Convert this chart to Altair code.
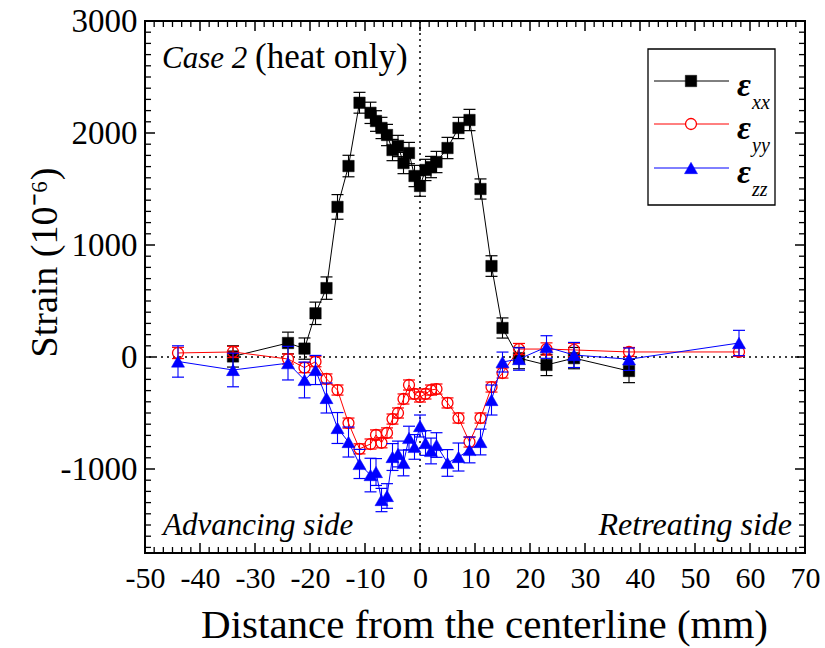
import altair as alt
import pandas as pd

# ---------------- data ----------------
x_all = [-44, -34, -24, -21, -19, -17, -15, -13, -11, -9, -8, -7, -6, -5, -4, -3,
         -2, -1, 0, 1, 2, 3, 5, 7, 9, 11, 13, 15, 18, 23, 28, 38, 58]

x_xx = [-34, -24, -21, -19, -17, -15, -13, -11, -9, -8, -7, -6, -5, -4, -3,
        -2, -1, 0, 1, 2, 3, 5, 7, 9, 11, 13, 15, 18, 23, 28, 38]
eps_xx = [5, 125, 75, 390, 615, 1340, 1705, 2270, 2180, 2107, 2045, 1982, 1848, 1884, 1732,
          1821, 1616, 1527, 1670, 1696, 1741, 1866, 2045, 2116, 1500, 812, 259, -10, -71, -10, -125]
err_xx = [95, 97, 95, 100, 100, 110, 96, 93, 95, 92, 95, 95, 95, 95, 95,
          95, 95, 92, 95, 95, 95, 95, 95, 95, 90, 92, 90, 95, 95, 95, 104]

eps_yy = [36, 45, -18, -95, -42, -196, -295, -590, -820, -777, -696, -766, -678, -554, -500, -375,
          -250, -330, -357, -330, -295, -286, -410, -545, -759, -545, -268, -143, 71, 71, 63, 45, 45]
err_yy = [50, 50, 45, 45, 45, 45, 45, 45, 45, 45, 45, 45, 45, 45, 45, 45,
          45, 45, 45, 45, 45, 45, 45, 45, 45, 45, 45, 45, 50, 55, 60, 40, 40]

eps_zz = [-40, -116, -55, -205, -116, -366, -634, -759, -955, -1054, -1027, -1277, -1241, -893, -866, -946,
          -723, -803, -616, -768, -839, -786, -946, -893, -830, -759, -384, -45, -18, 89, 18, -20, 125]
err_zz = [140, 150, 150, 160, 130, 134, 138, 134, 130, 150, 120, 104, 110, 120, 115, 115,
          105, 110, 98, 110, 115, 110, 119, 125, 115, 115, 134, 89, 100, 101, 112, 100, 113]

x_major = [-50, -40, -30, -20, -10, 0, 10, 20, 30, 40, 50, 60, 70]
y_major = [-1000, 0, 1000, 2000, 3000]

FONT = "'Liberation Serif', 'Times New Roman', Times, serif"
W, H = 660, 532
xs = alt.Scale(domain=[-50, 70], nice=False, zero=False)
ys = alt.Scale(domain=[-1750, 3000], nice=False, zero=False)

X_AXIS = alt.Axis(
    values=x_major, labelExpr="datum.value + ''", ticks=False, domain=False, grid=False,
    labelFont=FONT, labelFontSize=30, labelColor="black", labelPadding=10,
    labelFlush=False, labelOverlap=False,
    title="Distance from the centerline (mm)", titleFont=FONT, titleFontSize=41,
    titleFontWeight="normal", titleColor="black", titleX=339, titleY=72,
    titleBaseline="middle", titleAlign="center")
Y_AXIS = alt.Axis(
    values=y_major, labelExpr="datum.value + ''", ticks=False, domain=False, grid=False,
    labelFont=FONT, labelFontSize=33, labelColor="black", labelPadding=8,
    labelOverlap=False, labelFlush=False,
    title="Strain (10⁻⁶)", titleFont=FONT, titleFontSize=38, titleFontWeight="normal",
    titleColor="black", titleX=-100, titleY=241, titleAngle=270,
    titleBaseline="middle", titleAlign="center")


def frame(xv, yv, ev):
    return pd.DataFrame({"x": xv, "y": yv,
                         "lo": [a - b for a, b in zip(yv, ev)],
                         "hi": [a + b for a, b in zip(yv, ev)]})


df_xx = frame(x_xx, eps_xx, err_xx)
df_yy = frame(x_all, eps_yy, err_yy)
df_zz = frame(x_all, eps_zz, err_zz)

# minor tick positions
x_minor = []
for a in x_major[:-1]:
    for k in range(1, 6):
        x_minor.append(a + 10 * k / 6)
y_minor = [v for v in range(-1700, 3000, 100) if v % 1000 != 0]

one = pd.DataFrame({"a": [0]})


def X(field="x"):
    return alt.X(f"{field}:Q", scale=xs, axis=X_AXIS)


def Y(field="y"):
    return alt.Y(f"{field}:Q", scale=ys, axis=Y_AXIS)


def series(df, color, shape, filled, size):
    base = alt.Chart(df)
    bar = base.mark_rule(color=color, strokeWidth=1.1).encode(x=X(), y=Y("lo"), y2="hi:Q")
    cap_lo = base.mark_tick(color=color, thickness=1.2, size=12, orient="horizontal", opacity=1).encode(x=X(), y=Y("lo"))
    cap_hi = base.mark_tick(color=color, thickness=1.2, size=12, orient="horizontal", opacity=1).encode(x=X(), y=Y("hi"))
    line = base.mark_line(color=color, strokeWidth=1).encode(x=X(), y=Y())
    if filled:
        pts = base.mark_point(shape=shape, filled=True, fill=color, stroke=color, strokeWidth=0.5,
                              size=size, opacity=1).encode(x=X(), y=Y())
    else:
        pts = base.mark_point(shape=shape, filled=False, stroke=color, strokeWidth=1.3,
                              size=size, opacity=1).encode(x=X(), y=Y())
    return [bar, cap_lo, cap_hi, line, pts]


# zero reference lines
zero_h = alt.Chart(pd.DataFrame({"v": [0]})).mark_rule(
    color="black", strokeWidth=1.5, strokeDash=[2, 4]).encode(y=Y("v"))
zero_v = alt.Chart(pd.DataFrame({"v": [0]})).mark_rule(
    color="black", strokeWidth=1.5, strokeDash=[2, 4]).encode(x=X("v"))

# inward ticks
dfy_maj = pd.DataFrame({"v": y_major})
dfy_min = pd.DataFrame({"v": y_minor})
dfx_maj = pd.DataFrame({"v": x_major})
dfx_min = pd.DataFrame({"v": x_minor})
ticks = [
    alt.Chart(dfy_maj).mark_rule(color="black", strokeWidth=1.5).encode(y=Y("v"), x=alt.value(0), x2=alt.value(10)),
    alt.Chart(dfy_maj).mark_rule(color="black", strokeWidth=1.5).encode(y=Y("v"), x=alt.value(W), x2=alt.value(W - 10)),
    alt.Chart(dfy_min).mark_rule(color="black", strokeWidth=1.3).encode(y=Y("v"), x=alt.value(0), x2=alt.value(6)),
    alt.Chart(dfy_min).mark_rule(color="black", strokeWidth=1.3).encode(y=Y("v"), x=alt.value(W), x2=alt.value(W - 6)),
    alt.Chart(dfx_maj).mark_rule(color="black", strokeWidth=1.5).encode(x=X("v"), y=alt.value(H), y2=alt.value(H - 10)),
    alt.Chart(dfx_maj).mark_rule(color="black", strokeWidth=1.5).encode(x=X("v"), y=alt.value(0), y2=alt.value(10)),
    alt.Chart(dfx_min).mark_rule(color="black", strokeWidth=1.3).encode(x=X("v"), y=alt.value(H), y2=alt.value(H - 6)),
    alt.Chart(dfx_min).mark_rule(color="black", strokeWidth=1.3).encode(x=X("v"), y=alt.value(0), y2=alt.value(6)),
]


def txt(s, x, y, size, style="normal", weight="normal", align="left", baseline="alphabetic"):
    return alt.Chart(one).mark_text(
        text=s, font=FONT, fontSize=size, fontStyle=style, fontWeight=weight,
        align=align, baseline=baseline, color="black").encode(x=alt.value(x), y=alt.value(y))


texts = [
    txt("Case 2", 17, 47, 31, style="italic"),
    txt("(heat only)", 110, 47, 35),
    txt("Advancing side", 18, 514, 31, style="italic"),
    txt("Retreating side", 647, 514, 32, style="italic", align="right"),
]

# legend (drawn by hand, to get the subscripts)
legend = [
    alt.Chart(one).mark_rect(fill="white", stroke="black", strokeWidth=1.3).encode(
        x=alt.value(503), x2=alt.value(630), y=alt.value(28), y2=alt.value(184)),
]
leg_rows = [
    ("black", "square", True, 130, "xx", 60),
    ("red", "circle", False, 120, "yy", 103),
    ("blue", "triangle-up", True, 170, "zz", 147),
]
for color, shape, filled, size, sub, yy in leg_rows:
    legend.append(alt.Chart(one).mark_rule(color=color, strokeWidth=1).encode(
        x=alt.value(509), x2=alt.value(584), y=alt.value(yy)))
    if filled:
        legend.append(alt.Chart(one).mark_point(shape=shape, filled=True, fill=color, stroke=color,
                                                 strokeWidth=0.5, size=size, opacity=1).encode(
            x=alt.value(546), y=alt.value(yy)))
    else:
        legend.append(alt.Chart(one).mark_point(shape=shape, filled=True, fill="white", stroke=color,
                                                 strokeWidth=1.3, size=size, opacity=1).encode(
            x=alt.value(546), y=alt.value(yy)))
    legend.append(txt("ε", 592, yy + 5, 34, style="italic", weight="bold", baseline="middle"))
    legend.append(txt(sub, 607, yy + 22, 20, style="italic", baseline="middle"))

layers = ([zero_h, zero_v]
          + series(df_xx, "black", "square", True, 130)
          + series(df_yy, "red", "circle", False, 120)
          + series(df_zz, "blue", "triangle-up", True, 170)
          + ticks + texts + legend)

chart = alt.layer(*layers).properties(
    width=W, height=H,
    autosize=alt.AutoSizeParams(type="none"),
    padding={"left": 145, "top": 21, "right": 20, "bottom": 95},
).configure_view(stroke="black", strokeWidth=2)

chart.save("out.html", embed_options={"renderer": "svg", "actions": False})
